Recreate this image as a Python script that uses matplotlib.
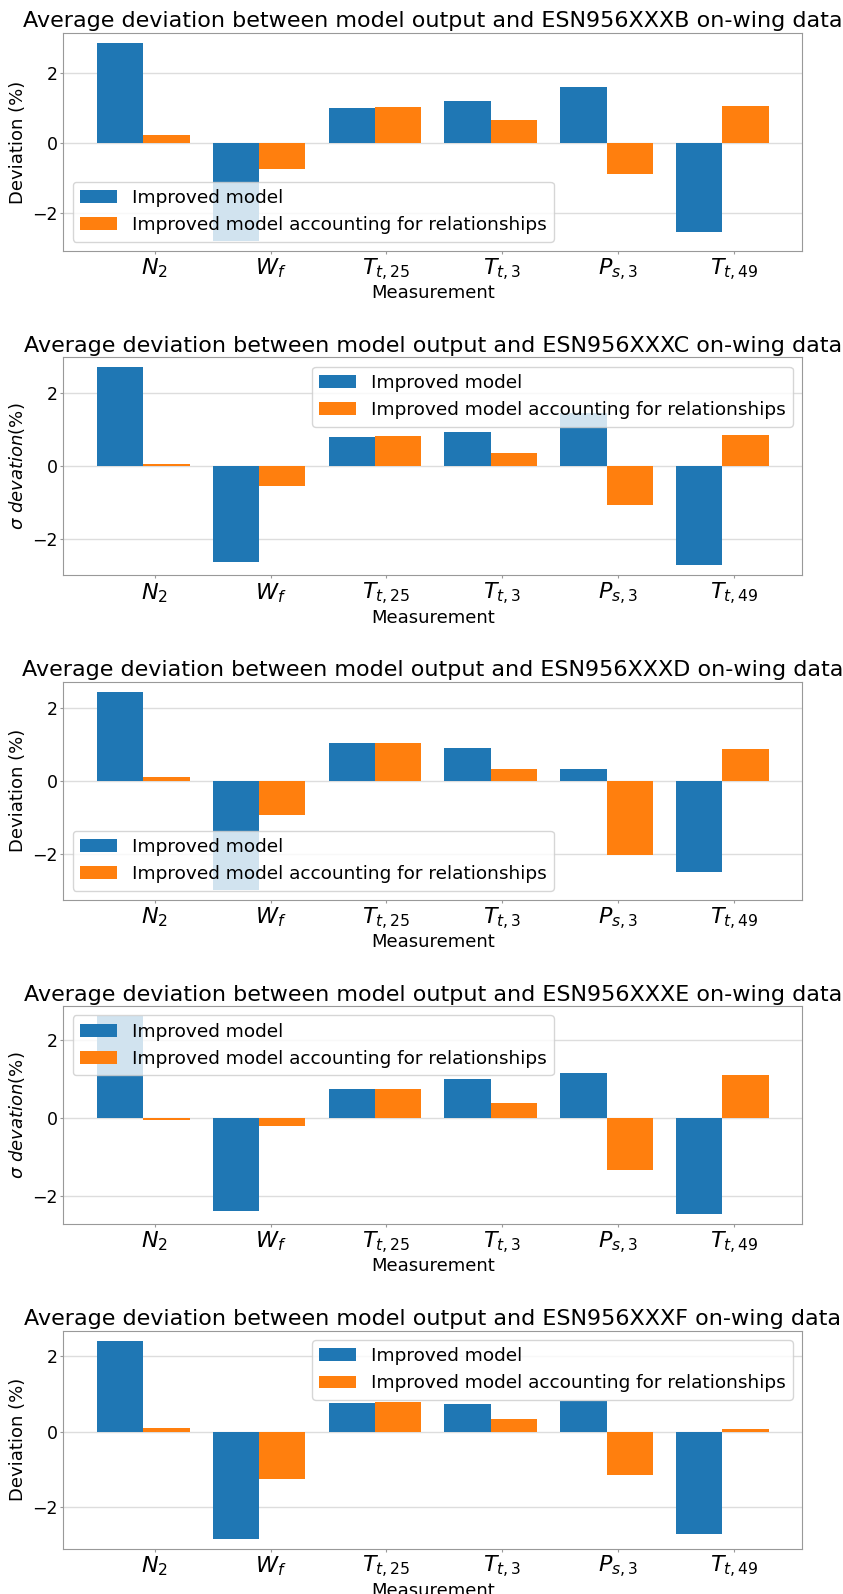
import numpy as np
import matplotlib
matplotlib.use("Agg")
import matplotlib.pyplot as plt
from matplotlib.ticker import MultipleLocator

measurements = ["$N_2$", "$W_f$", "$T_{t,25}$", "$T_{t,3}$", "$P_{s,3}$", "$T_{t,49}$"]
series_names = ["Improved model", "Improved model accounting for relationships"]
engines = ["ESN956XXXB", "ESN956XXXC", "ESN956XXXD", "ESN956XXXE", "ESN956XXXF"]

improved_B = [2.85, -2.81, 1.00, 1.20, 1.60, -2.54]
related_B = [0.23, -0.75, 1.01, 0.64, -0.90, 1.04]
improved_C = [2.72, -2.65, 0.80, 0.95, 1.45, -2.74]
related_C = [0.05, -0.54, 0.82, 0.36, -1.08, 0.86]
improved_D = [2.46, -2.99, 1.04, 0.90, 0.33, -2.49]
related_D = [0.11, -0.93, 1.04, 0.33, -2.02, 0.89]
improved_E = [2.62, -2.38, 0.74, 1.00, 1.15, -2.47]
related_E = [-0.04, -0.20, 0.74, 0.39, -1.34, 1.10]
improved_F = [2.41, -2.83, 0.76, 0.74, 0.81, -2.70]
related_F = [0.10, -1.24, 0.78, 0.34, -1.15, 0.06]

ylabels = ["Deviation (%)", r"$\sigma\ devation (\%)$", "Deviation (%)",
           r"$\sigma\ devation (\%)$", "Deviation (%)"]
legend_locs = ["lower left", "upper right", "lower left", "upper left", "upper right"]

panels = [
    (improved_B, related_B),
    (improved_C, related_C),
    (improved_D, related_D),
    (improved_E, related_E),
    (improved_F, related_F),
]

W, H = 843, 1594
fig = plt.figure(figsize=(W / 100, H / 100), dpi=100)

blue = "#1f77b4"
orange = "#ff7f0e"
width = 0.4
x = np.arange(len(measurements))

ax_left = 63.3 / W
ax_w = 739 / W
ax_h = 218 / H

for k, ((imp, rel), eng) in enumerate(zip(panels, engines)):
    bottom_px = 251 + 324.4 * k
    ax = fig.add_axes([ax_left, 1 - bottom_px / H, ax_w, ax_h])
    ax.bar(x, imp, width=width, color=blue, label=series_names[0], zorder=2)
    ax.bar(x + width, rel, width=width, color=orange, label=series_names[1], zorder=2)
    ax.set_xticks(x + 0.3)
    ax.set_xticklabels(measurements, fontsize=16)
    ax.yaxis.set_major_locator(MultipleLocator(2))
    ax.tick_params(axis="y", labelsize=12.5)
    ax.tick_params(colors="#999999", labelcolor="black", length=2.5, pad=1.5)
    ax.yaxis.grid(True, color="#dddddd", linewidth=1.0, zorder=0)
    ax.set_axisbelow(True)
    for sp in ax.spines.values():
        sp.set_color("#999999")
    ax.set_title(f"Average deviation between model output and {eng} on-wing data",
                 fontsize=16, pad=4)
    ax.set_xlabel("Measurement", fontsize=13, labelpad=1)
    ax.set_ylabel(ylabels[k], fontsize=13)
    ax.legend(loc=legend_locs[k], fontsize=13.3, framealpha=0.8)

fig.savefig("out.png", dpi=100)
